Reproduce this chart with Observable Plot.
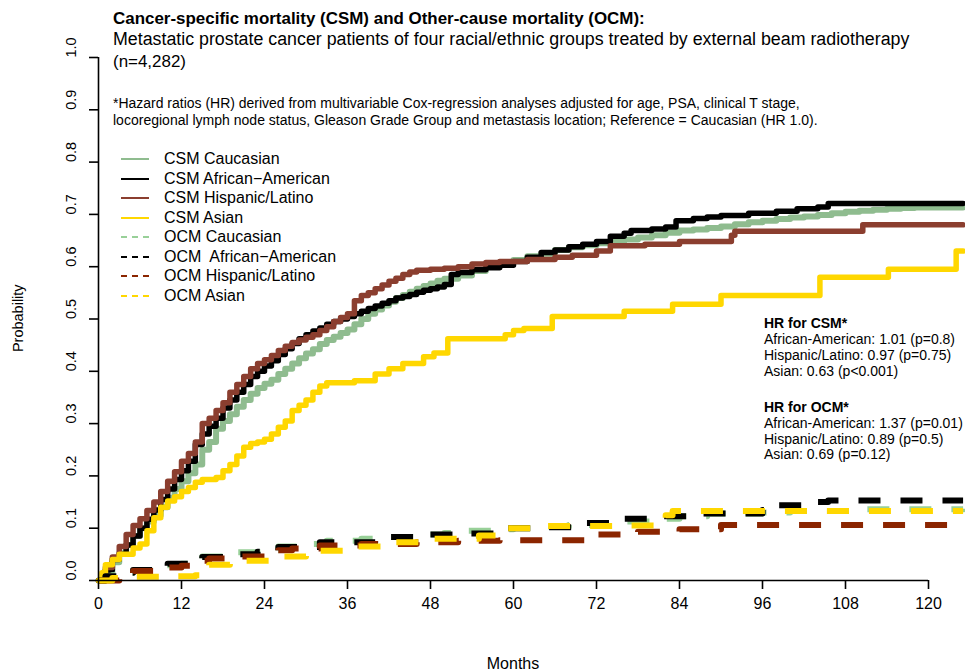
<!DOCTYPE html>
<html><head><meta charset="utf-8">
<script src="https://cdn.jsdelivr.net/npm/d3@7"></script>
<script src="https://cdn.jsdelivr.net/npm/@observablehq/plot@0.6"></script>
<style>
body{margin:0;background:#fff;}
#wrap{position:relative;width:965px;height:672px;overflow:hidden;background:#fff;font-family:"Liberation Sans",Arial,sans-serif;}
#wrap svg{position:absolute;left:0;top:0;}
.abs{position:absolute;white-space:pre;color:#000;line-height:1;}
</style></head><body><div id="wrap"></div>
<script>
// ---------- data ----------
const xTicks = [0, 12, 24, 36, 48, 60, 72, 84, 96, 108, 120];
const yTicks = [0, 0.1, 0.2, 0.3, 0.4, 0.5, 0.6, 0.7, 0.8, 0.9, 1.0];

const csmCaucasian = [[0,0],[1,0.015],[2,0.035],[3,0.052],[4,0.068],[5,0.085],[6,0.1],[7,0.113],[8,0.125],[9,0.14],[10,0.158],[11,0.175],[12,0.19],[13,0.205],[14,0.222],[15,0.25],[16,0.265],[17,0.29],[18,0.305],[19,0.318],[20,0.332],[21,0.345],[22,0.357],[23,0.368],[24,0.376],[25,0.384],[26,0.395],[27,0.405],[28,0.415],[29,0.425],[30,0.434],[31,0.442],[32,0.452],[33,0.46],[34,0.466],[35,0.473],[36,0.48],[37,0.49],[38,0.5],[39,0.51],[40,0.518],[41,0.526],[42,0.533],[43,0.54],[44,0.546],[45,0.552],[46,0.558],[47,0.563],[48,0.568],[49,0.573],[50,0.577],[52,0.583],[54,0.592],[56,0.6],[58,0.608],[60,0.613],[62,0.62],[64,0.625],[66,0.632],[68,0.637],[70,0.641],[72,0.645],[74,0.648],[76,0.652],[78,0.656],[80,0.66],[82,0.665],[84,0.669],[86,0.671],[88,0.674],[90,0.677],[92,0.681],[94,0.685],[96,0.688],[98,0.691],[100,0.694],[102,0.696],[104,0.699],[106,0.702],[108,0.705],[110,0.707],[112,0.709],[114,0.711],[116,0.712],[118,0.713],[125,0.713]];
const csmAfricanAmerican = [[0,0],[1,0.02],[2,0.04],[3,0.05],[4,0.068],[5,0.085],[6,0.1],[7,0.117],[8,0.135],[9,0.155],[10,0.175],[11,0.193],[12,0.21],[13,0.228],[14,0.26],[15,0.28],[16,0.295],[17,0.31],[18,0.33],[19,0.345],[20,0.36],[21,0.375],[22,0.39],[23,0.4],[24,0.41],[25,0.42],[26,0.432],[27,0.443],[28,0.453],[29,0.462],[30,0.47],[31,0.477],[32,0.483],[33,0.49],[34,0.495],[35,0.5],[36,0.505],[37,0.51],[38,0.515],[39,0.52],[40,0.525],[41,0.53],[42,0.535],[43,0.54],[44,0.543],[45,0.547],[46,0.551],[47,0.555],[48,0.558],[49,0.561],[50,0.566],[51,0.585],[52,0.589],[54,0.594],[56,0.598],[58,0.603],[60,0.61],[62,0.618],[64,0.627],[66,0.632],[68,0.638],[70,0.643],[72,0.648],[74,0.658],[76,0.664],[77,0.669],[80,0.672],[82,0.676],[83.5,0.688],[86,0.692],[88,0.695],[90,0.698],[94,0.702],[98,0.706],[101,0.711],[104,0.714],[105.5,0.721],[125,0.721]];
const csmHispanic = [[0,0],[1,0.025],[2,0.045],[3,0.065],[4,0.088],[5,0.105],[6,0.118],[7,0.134],[8,0.15],[9,0.17],[10,0.19],[11,0.208],[12,0.228],[13,0.243],[14,0.265],[15,0.3],[16,0.31],[17,0.325],[18,0.34],[19,0.36],[20,0.375],[21,0.39],[22,0.405],[23,0.415],[24,0.422],[25,0.43],[26,0.44],[27,0.448],[28,0.455],[29,0.46],[30,0.465],[31,0.47],[32,0.478],[33,0.485],[34,0.495],[35,0.503],[36,0.51],[37,0.535],[38,0.545],[39,0.55],[40,0.558],[41,0.565],[42,0.572],[43,0.578],[44,0.585],[45,0.59],[46,0.593],[48,0.595],[50,0.597],[52,0.6],[54,0.605],[56,0.608],[58,0.61],[62,0.614],[66,0.618],[68.5,0.622],[72,0.63],[74,0.64],[79,0.643],[84,0.648],[91.5,0.66],[92,0.668],[110.5,0.68],[125,0.68]];
const csmAsian = [[0,0],[0.5,0.015],[1,0.03],[2,0.04],[3,0.05],[5,0.062],[6,0.07],[7,0.095],[8,0.12],[9,0.14],[10,0.152],[11,0.16],[12,0.17],[13,0.178],[14,0.188],[15,0.193],[17,0.197],[18,0.21],[19,0.222],[20,0.238],[21,0.255],[22,0.262],[23,0.265],[24,0.27],[25,0.28],[26,0.293],[27,0.305],[28,0.325],[29,0.335],[30,0.345],[31,0.36],[32,0.372],[33,0.378],[37,0.382],[40,0.395],[42,0.405],[44,0.415],[47,0.428],[48.5,0.435],[50.5,0.462],[58.8,0.47],[60,0.478],[61.5,0.482],[65.6,0.505],[76,0.515],[83,0.528],[90,0.545],[104.3,0.58],[114.2,0.595],[124,0.63],[125,0.63]];

const ocmCaucasian = [[0,0],[1,0.005],[2,0.01],[3,0.015],[5,0.019],[8,0.025],[9,0.029],[12,0.032],[14,0.04],[15,0.046],[18,0.05],[20,0.054],[24,0.058],[26,0.065],[30,0.07],[33,0.076],[38,0.08],[41,0.083],[46,0.088],[50,0.091],[53,0.095],[57,0.098],[60,0.1],[64,0.103],[68,0.106],[72,0.11],[76,0.113],[80,0.118],[84,0.123],[88,0.128],[96,0.13],[100,0.133],[110,0.136],[125,0.137]];
const ocmAfricanAmerican = [[0,0],[1,0.008],[3,0.015],[5,0.02],[8,0.026],[10,0.032],[14,0.04],[15,0.045],[19,0.05],[23,0.055],[26,0.064],[32,0.073],[40,0.083],[46,0.088],[52,0.09],[58,0.1],[64,0.102],[70,0.11],[75,0.118],[81,0.123],[87,0.128],[96,0.135],[98,0.144],[104,0.15],[105.5,0.153],[125,0.153]];
const ocmHispanic = [[0,0],[3,0.01],[5,0.018],[9,0.025],[12,0.028],[15,0.038],[16,0.042],[20,0.046],[26,0.058],[28,0.061],[32,0.067],[38,0.07],[46,0.073],[52,0.076],[58,0.077],[64,0.077],[72,0.088],[78,0.093],[84,0.098],[90,0.106],[125,0.106]];
const ocmAsian = [[0,0],[2,0.005],[5,0.007],[10,0.008],[14,0.01],[15,0.022],[16,0.03],[19,0.038],[25,0.046],[30,0.057],[36,0.065],[42,0.073],[48,0.08],[55,0.086],[58,0.1],[64,0.104],[76,0.105],[82,0.125],[83,0.133],[125,0.133]];

const legendLabels = ["CSM Caucasian","CSM African\u2212American","CSM Hispanic/Latino","CSM Asian","OCM Caucasian","OCM  African\u2212American","OCM Hispanic/Latino","OCM Asian"];
const seriesColors = ["#8FBC8F","#000000","#8B3E2F","#FFD700","#98D098","#000000","#8B2500","#FFD700"];
const seriesDashed = [false,false,false,false,true,true,true,true];
const seriesData = [csmCaucasian,csmAfricanAmerican,csmHispanic,csmAsian,ocmCaucasian,ocmAfricanAmerican,ocmHispanic,ocmAsian];

const titleText = "Cancer-specific mortality (CSM) and Other-cause mortality (OCM):";
const subtitleLines = ["Metastatic prostate cancer patients of four racial/ethnic groups treated by external beam radiotherapy","(n=4,282)"];
const noteLines = ["*Hazard ratios (HR) derived from multivariable Cox-regression analyses adjusted for age, PSA, clinical T stage,","locoregional lymph node status, Gleason Grade Group and metastasis location; Reference = Caucasian (HR 1.0)."];
const hrCsmHeader = "HR for CSM*";
const hrCsmLines = ["African-American: 1.01 (p=0.8)","Hispanic/Latino: 0.97 (p=0.75)","Asian: 0.63 (p<0.001)"];
const hrOcmHeader = "HR for OCM*";
const hrOcmLines = ["African-American: 1.37 (p=0.01)","Hispanic/Latino: 0.89 (p=0.5)","Asian: 0.69 (p=0.12)"];
const xLabel = "Months";
const yLabel = "Probability";

// ---------- table ----------
const rows = [];
seriesData.forEach((arr, i) => arr.forEach(([t, p]) => rows.push({series: legendLabels[i], idx: i, t, p})));

const W = 965, H = 672;
const mL = 98, mT = 57, mB = 92;
const pxPerMonth = (928 - 98) / 120;
const mR = W - mL - 125 * pxPerMonth;
const narrow = "'Liberation Sans Narrow','Arial Narrow',sans-serif";
const sans = "'Liberation Sans',Arial,sans-serif";

const lineMarks = seriesData.map((arr, i) => Plot.line(rows.filter(r => r.idx === i), {
  x: "t", y: "p", curve: "step-after",
  stroke: seriesColors[i], strokeWidth: i === 0 ? 6 : (seriesDashed[i] ? 6 : 5.5),
  strokeDasharray: seriesDashed[i] ? "22,20" : null,
  strokeLinecap: seriesDashed[i] ? "butt" : "round",
  strokeLinejoin: "round"
}));

const plot = Plot.plot({
  width: W, height: H,
  marginTop: mT, marginBottom: mB, marginLeft: mL, marginRight: mR,
  x: {domain: [0, 125]},
  y: {domain: [0, 1]},
  style: {background: "white", fontFamily: sans, color: "#000"},
  marks: [
    ...lineMarks,
    Plot.ruleY([0], {x1: 0, x2: 120, stroke: "#000", strokeWidth: 1.6}),
    Plot.ruleX([0], {y1: 0, y2: 1, stroke: "#000", strokeWidth: 1.6}),
    Plot.axisX({ticks: xTicks, tickSize: 9, tickFormat: () => "", label: null, strokeWidth: 1.6}),
    Plot.axisY({ticks: yTicks, tickSize: 9, tickFormat: () => "", label: null, strokeWidth: 1.6}),
    Plot.text(xTicks, {x: d => d, frameAnchor: "bottom", dy: 28, text: d => String(d), fontFamily: narrow, fontSize: 16, fill: "#000"}),
    Plot.text(yTicks, {y: d => d, frameAnchor: "left", dx: -27, rotate: -90, text: d => d.toFixed(1), fontFamily: sans, fontSize: 14.5, fill: "#000"})
  ]
});
const wrap = document.getElementById("wrap");
wrap.appendChild(plot);

// ---------- text overlays ----------
function addText(txt, x, cy, size, opts = {}) {
  const el = document.createElement("div");
  el.className = "abs";
  el.textContent = txt;
  el.style.fontFamily = opts.family || sans;
  el.style.fontWeight = opts.bold ? "bold" : "normal";
  el.style.fontSize = size + "px";
  wrap.appendChild(el);
  if (opts.fitWidth) {
    const w = el.getBoundingClientRect().width;
    size = size * opts.fitWidth / w;
    el.style.fontSize = size + "px";
  }
  let left = x;
  if (opts.center) left = x - el.getBoundingClientRect().width / 2;
  el.style.left = left + "px";
  el.style.top = (cy - 0.5 * size) + "px";
  return el;
}

addText(titleText, 113, 19, 18, {family: narrow, bold: true, fitWidth: 532});
addText(subtitleLines[0], 113, 40, 18, {family: narrow, fitWidth: 797});
addText(subtitleLines[1], 113, 62, 18, {family: narrow, fitWidth: 73});
addText(noteLines[0], 113, 103, 14, {family: narrow, fitWidth: 687});
addText(noteLines[1], 113, 120, 14, {family: narrow, fitWidth: 705});

// legend
const legendY = [159, 179, 198.3, 217.7, 237.3, 256.7, 276, 295.7];
legendLabels.forEach((lab, i) => {
  const sw = document.createElementNS("http://www.w3.org/2000/svg", "svg");
  sw.setAttribute("width", 30); sw.setAttribute("height", 6);
  sw.style.position = "absolute"; sw.style.left = "120px"; sw.style.top = (legendY[i] - 3) + "px";
  const ln = document.createElementNS("http://www.w3.org/2000/svg", "line");
  ln.setAttribute("x1", 1); ln.setAttribute("x2", 29); ln.setAttribute("y1", 3); ln.setAttribute("y2", 3);
  ln.setAttribute("stroke", seriesColors[i]); ln.setAttribute("stroke-width", 2);
  if (seriesDashed[i]) ln.setAttribute("stroke-dasharray", "6,5");
  sw.appendChild(ln);
  wrap.appendChild(sw);
  addText(lab, 164, legendY[i], 16, {family: sans});
});

// HR annotations
addText(hrCsmHeader, 764, 323, 14, {bold: true});
hrCsmLines.forEach((t, i) => addText(t, 764, 339 + i * 16, 14));
addText(hrOcmHeader, 764, 407, 14, {bold: true});
hrOcmLines.forEach((t, i) => addText(t, 764, 423 + i * 15.5, 14));

// axis titles
addText(xLabel, 513, 664, 16, {family: narrow, center: true});
const yl = addText(yLabel, 18, 318, 14.5, {});
const ylw = yl.getBoundingClientRect().width;
yl.style.left = (18 - ylw / 2) + "px";
yl.style.transform = "rotate(-90deg)";
</script></body></html>
